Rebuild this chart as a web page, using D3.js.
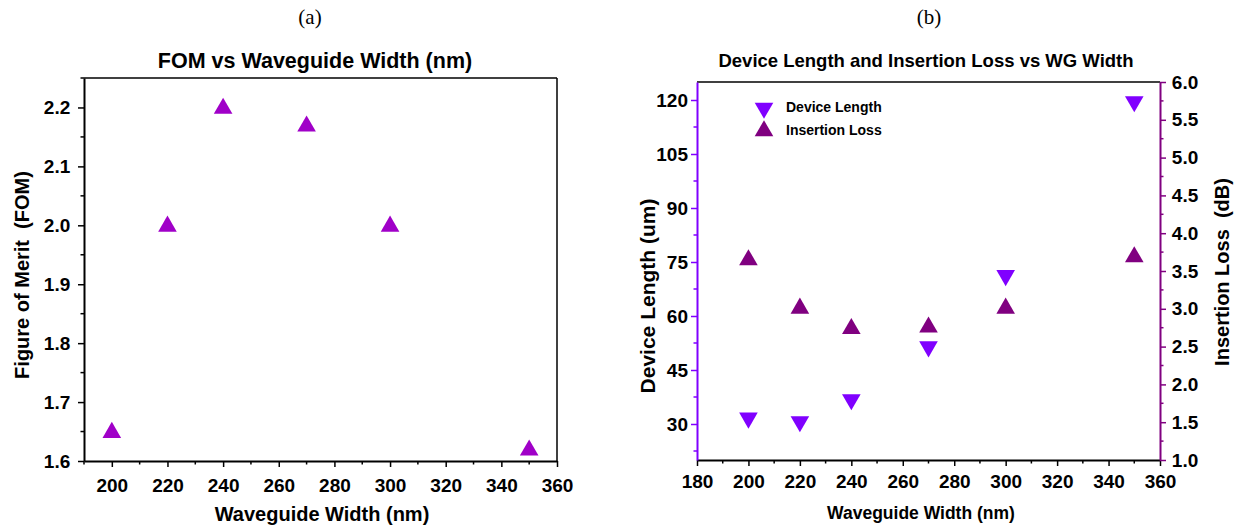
<!DOCTYPE html>
<html>
<head>
<meta charset="utf-8">
<script src="https://cdn.jsdelivr.net/npm/d3@7"></script>
<style>
body{margin:0;background:#fff;}
svg text{font-family:Arial,"Liberation Sans",sans-serif;white-space:pre;}
</style>
</head>
<body>
<svg id="chart" width="1245" height="527"></svg>
<script>
// panel (a)
var fom_x=[200,220,240,270,300,350];
var fom_y=[1.65,2.0,2.2,2.17,2.0,1.62];
var fom_xticks=[200,220,240,260,280,300,320,340,360];
var fom_yticks=[1.6,1.7,1.8,1.9,2.0,2.1,2.2];

// panel (b)
var wg_x=[200,220,240,270,300,350];
var dev_len=[31.4,30.4,36.5,51.2,71,119.3];
var ins_loss=[3.66,3.02,2.75,2.77,3.02,3.7];
var b_xticks=[180,200,220,240,260,280,300,320,340,360];
var len_ticks=[30,45,60,75,90,105,120];
var loss_ticks=[1.0,1.5,2.0,2.5,3.0,3.5,4.0,4.5,5.0,5.5,6.0];

var svg=d3.select("#chart");
var tri=d3.symbol().type(d3.symbolTriangle).size(150);
var TICK_FS="19px";

function minor(g,scale,vals,orient,len,color){
	// little ticks between the labelled ones
	vals.forEach(function(v){
		var p=scale(v);
		var l;
		if(orient=="bottom") l=g.append("line").attr("x1",p).attr("x2",p).attr("y1",0).attr("y2",len);
		else if(orient=="left") l=g.append("line").attr("x1",0).attr("x2",-len).attr("y1",p).attr("y2",p);
		else l=g.append("line").attr("x1",0).attr("x2",len).attr("y1",p).attr("y2",p);
		l.attr("stroke",color).attr("stroke-width",1.5);
	});
}

function style_axis(g,color){
	g.attr("font-size",null).attr("font-family",null);
	g.select(".domain").attr("stroke",color).attr("stroke-width",2);
	g.selectAll(".tick line").attr("stroke",color).attr("stroke-width",1.5);
	g.selectAll(".tick text").attr("font-size",TICK_FS).style("font-size",TICK_FS)
		.style("font-weight","bold").attr("fill","#000");
}

// ---------- (a) ----------
var ax=d3.scaleLinear().domain([190,360]).range([84,557]);
var ay=d3.scaleLinear().domain([1.6,2.25]).range([461,78]);

svg.append("text").attr("x",310).attr("y",24).attr("text-anchor","middle")
	.style("font-family","'Liberation Serif','Times New Roman',serif").style("font-size","21px").text("(a)");
svg.append("text").attr("x",315).attr("y",68).attr("text-anchor","middle")
	.style("font-weight","bold").style("font-size","21.5px").text("FOM vs Waveguide Width (nm)");

svg.append("line").attr("x1",84).attr("x2",557).attr("y1",78).attr("y2",78).attr("stroke","#000").attr("stroke-width",1.5);
svg.append("line").attr("x1",557).attr("x2",557).attr("y1",78).attr("y2",461).attr("stroke","#000").attr("stroke-width",1.5);

var gax=svg.append("g").attr("transform","translate(0,461)")
	.call(d3.axisBottom(ax).tickValues(fom_xticks).tickSize(6).tickSizeOuter(0).tickFormat(d3.format("d")));
style_axis(gax,"#000");
gax.selectAll(".tick text").attr("dy","1.15em");
minor(gax,ax,d3.range(190,361,20),"bottom",3.5,"#000");

var gay=svg.append("g").attr("transform","translate(84,0)")
	.call(d3.axisLeft(ay).tickValues(fom_yticks).tickSize(6).tickSizeOuter(0).tickFormat(d3.format(".1f")));
style_axis(gay,"#000");
gay.selectAll(".tick text").attr("dx","-0.25em");
minor(gay,ay,[1.65,1.75,1.85,1.95,2.05,2.15,2.25],"left",3.5,"#000");

svg.append("text").attr("x",322).attr("y",521).attr("text-anchor","middle")
	.style("font-weight","bold").style("font-size","20px").text("Waveguide Width (nm)");
svg.append("text").attr("transform","translate(29,275) rotate(-90)").attr("text-anchor","middle")
	.style("font-weight","bold").style("font-size","20px").text("Figure of Merit  (FOM)");

svg.append("g").selectAll("path").data(fom_x).enter().append("path")
	.attr("d",tri)
	.attr("transform",function(d,i){return "translate("+ax(d)+","+(ay(fom_y[i])+1)+")";})
	.attr("fill","#a000c8");

// ---------- (b) ----------
var bx=d3.scaleLinear().domain([180,360]).range([697,1160]);
var by=d3.scaleLinear().domain([20,125]).range([460,82]);
var by2=d3.scaleLinear().domain([1.0,6.0]).range([460,82]);

svg.append("text").attr("x",929).attr("y",24).attr("text-anchor","middle")
	.style("font-family","'Liberation Serif','Times New Roman',serif").style("font-size","21px").text("(b)");
svg.append("text").attr("x",926).attr("y",67).attr("text-anchor","middle")
	.style("font-weight","bold").style("font-size","18.5px").text("Device Length and Insertion Loss vs WG Width");

svg.append("line").attr("x1",697).attr("x2",1160).attr("y1",82).attr("y2",82).attr("stroke","#000").attr("stroke-width",1.5);

var gbx=svg.append("g").attr("transform","translate(0,460)")
	.call(d3.axisBottom(bx).tickValues(b_xticks).tickSize(6).tickSizeOuter(0).tickFormat(d3.format("d")));
style_axis(gbx,"#000");
gbx.selectAll(".tick text").attr("dy","1.0em");
minor(gbx,bx,d3.range(190,360,20),"bottom",3.5,"#000");

var gby=svg.append("g").attr("transform","translate(697,0)")
	.call(d3.axisLeft(by).tickValues(len_ticks).tickSize(6).tickSizeOuter(0).tickFormat(d3.format("d")));
style_axis(gby,"#8000ff");
minor(gby,by,[22.5,37.5,52.5,67.5,82.5,97.5,112.5],"left",3.5,"#8000ff");

var gby2=svg.append("g").attr("transform","translate(1160,0)")
	.call(d3.axisRight(by2).tickValues(loss_ticks).tickSize(6).tickSizeOuter(0).tickFormat(d3.format(".1f")));
style_axis(gby2,"#800080");
gby2.selectAll(".tick text").attr("dx","0.15em");
minor(gby2,by2,[1.25,1.75,2.25,2.75,3.25,3.75,4.25,4.75,5.25,5.75],"right",3.5,"#800080");

svg.append("text").attr("x",921).attr("y",519).attr("text-anchor","middle")
	.style("font-weight","bold").style("font-size","17.5px").text("Waveguide Width (nm)");
svg.append("text").attr("transform","translate(655,296) rotate(-90)").attr("text-anchor","middle")
	.style("font-weight","bold").style("font-size","21px").text("Device Length (um)");
svg.append("text").attr("transform","translate(1229,272) rotate(-90)").attr("text-anchor","middle")
	.style("font-weight","bold").style("font-size","20px").text("Insertion Loss  (dB)");

svg.append("g").selectAll("path").data(wg_x).enter().append("path")
	.attr("d",tri)
	.attr("transform",function(d,i){return "translate("+bx(d)+","+(by(dev_len[i])-1)+") rotate(180)";})
	.attr("fill","#8000ff");
svg.append("g").selectAll("path").data(wg_x).enter().append("path")
	.attr("d",tri)
	.attr("transform",function(d,i){return "translate("+bx(d)+","+(by2(ins_loss[i])+1)+")";})
	.attr("fill","#800080");

// legend
var leg=svg.append("g");
leg.append("path").attr("d",tri).attr("transform","translate(764,108) rotate(180)").attr("fill","#8000ff");
leg.append("path").attr("d",tri).attr("transform","translate(764,131)").attr("fill","#800080");
leg.append("text").attr("x",786).attr("y",112).style("font-weight","bold").style("font-size","14px").text("Device Length");
leg.append("text").attr("x",786).attr("y",135).style("font-weight","bold").style("font-size","14px").text("Insertion Loss");
</script>
</body>
</html>
